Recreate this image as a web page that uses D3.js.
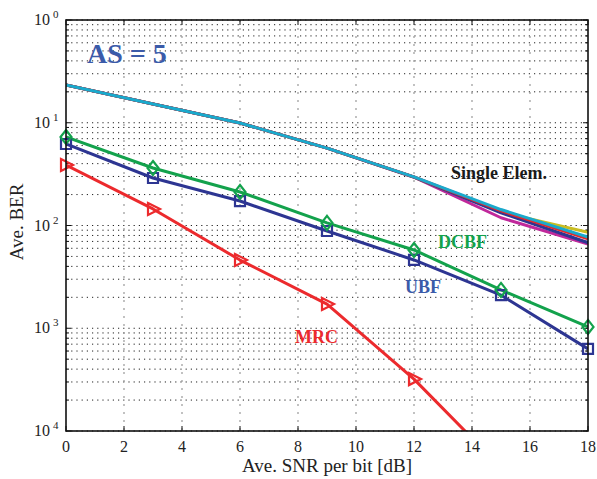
<!DOCTYPE html>
<html>
<head>
<meta charset="utf-8">
<script src="https://cdn.jsdelivr.net/npm/d3@7"></script>
<style>
  body { margin: 0; background: #fff; }
  text { font-family: "Liberation Serif", "Times New Roman", serif; }
</style>
</head>
<body>
<script>
// data
const snr = [0, 3, 6, 9, 12, 15, 18];
const xTicks = [0, 2, 4, 6, 8, 10, 12, 14, 16, 18];
const yDecades = [0, -1, -2, -3, -4];
const yTickLabels = ['0', '1', '2', '3', '4'];

const singleMagenta = [0.233, 0.152, 0.0995, 0.0567, 0.0295, 0.0119, 0.0066];
const singleYellow = [0.233, 0.152, 0.0995, 0.0567, 0.0296, 0.0135, 0.0086];
const singleBlue = [0.233, 0.152, 0.0995, 0.0567, 0.0296, 0.0133, 0.0068];
const singleRed = [0.233, 0.152, 0.0995, 0.0567, 0.0297, 0.0139, 0.0074];
const singleCyan = [0.233, 0.152, 0.0995, 0.0567, 0.0297, 0.0143, 0.0077];
const dcbf = [0.0727, 0.0363, 0.0212, 0.0106, 0.00578, 0.00236, 0.00103];
const ubf = [0.0621, 0.029, 0.0173, 0.00884, 0.00462, 0.0021, 0.00063];
const mrc = [0.0388, 0.0145, 0.00461, 0.00172, 0.00032, 0.000044];

const width = 597, height = 479;
const margin = { left: 66, right: 9, top: 20, bottom: 48 };

const svg = d3.select('body').append('svg')
  .attr('width', width)
  .attr('height', height);

const x = d3.scaleLinear().domain([0, 18]).range([margin.left, width - margin.right]);
const y = d3.scaleLog().domain([1e-4, 1]).range([height - margin.bottom, margin.top]);

svg.append('defs').append('clipPath').attr('id', 'plot')
  .append('rect')
  .attr('x', x(0)).attr('y', y(1))
  .attr('width', x(18) - x(0)).attr('height', y(1e-4) - y(1));

// grid
let minorVals = [];
for (let e = -4; e < 0; e++) {
  for (let m = 1; m < 10; m++) minorVals.push(m * Math.pow(10, e));
}
minorVals.push(1);

const grid = svg.append('g');
grid.selectAll('line.h')
  .data(minorVals)
  .enter().append('line')
  .attr('x1', x(0)).attr('x2', x(18))
  .attr('y1', (d) => y(d)).attr('y2', (d) => y(d))
  .attr('stroke', '#222')
  .attr('stroke-width', 1)
  .attr('stroke-dasharray', '1.2,4');

grid.selectAll('line.v')
  .data(xTicks.slice(1, -1))
  .enter().append('line')
  .attr('x1', (d) => x(d)).attr('x2', (d) => x(d))
  .attr('y1', y(1)).attr('y2', y(1e-4))
  .attr('stroke', '#999')
  .attr('stroke-width', 1.2)
  .attr('stroke-dasharray', '2,6');

// ticks (inward)
const ticks = svg.append('g').attr('stroke', '#111').attr('stroke-width', 1);
xTicks.forEach((t) => {
  ticks.append('line').attr('x1', x(t)).attr('x2', x(t)).attr('y1', y(1e-4)).attr('y2', y(1e-4) - 5);
  ticks.append('line').attr('x1', x(t)).attr('x2', x(t)).attr('y1', y(1)).attr('y2', y(1) + 5);
});
minorVals.forEach((v) => {
  const major = Math.abs(Math.log10(v) - Math.round(Math.log10(v))) < 1e-9;
  const len = major ? 5 : 3;
  ticks.append('line').attr('x1', x(0)).attr('x2', x(0) + len).attr('y1', y(v)).attr('y2', y(v));
  ticks.append('line').attr('x1', x(18)).attr('x2', x(18) - len).attr('y1', y(v)).attr('y2', y(v));
});

// lines
const line = d3.line()
  .x((d, i) => x(snr[i]))
  .y((d) => y(d));

const series = [
  { v: singleMagenta, c: '#c0289b' },
  { v: singleYellow, c: '#c9bd22' },
  { v: singleBlue, c: '#2d3592' },
  { v: singleRed, c: '#e3262b' },
  { v: singleCyan, c: '#1aa9cc' },
  { v: mrc, c: '#ec2a2d', m: 'tri' },
  { v: ubf, c: '#2d3592', m: 'sq' },
  { v: dcbf, c: '#13a24c', m: 'dia' }
];

const plot = svg.append('g').attr('clip-path', 'url(#plot)');
series.forEach((s) => {
  plot.append('path')
    .datum(s.v)
    .attr('fill', 'none')
    .attr('stroke', s.c)
    .attr('stroke-width', 3)
    .attr('stroke-linejoin', 'round')
    .attr('d', line);
});

const markers = svg.append('g');
const tri = 'M-5,-6L7,0L-5,6Z';
const sq = 'M-5,-5L5,-5L5,5L-5,5Z';
const dia = 'M0,-7L5.5,0L0,7L-5.5,0Z';
series.filter((s) => s.m).forEach((s) => {
  const p = s.m === 'tri' ? tri : s.m === 'sq' ? sq : dia;
  markers.selectAll(null)
    .data(s.v.filter((d) => d >= 1e-4))
    .enter().append('path')
    .attr('transform', (d, i) => `translate(${x(snr[i])},${y(d)})`)
    .attr('d', p)
    .attr('fill', 'none')
    .attr('stroke', s.c)
    .attr('stroke-width', 2.2);
});

// box
svg.append('rect')
  .attr('x', x(0)).attr('y', y(1))
  .attr('width', x(18) - x(0)).attr('height', y(1e-4) - y(1))
  .attr('fill', 'none')
  .attr('stroke', '#111')
  .attr('stroke-width', 1.6);

// tick labels
svg.selectAll('text.xt')
  .data(xTicks)
  .enter().append('text')
  .attr('x', (d) => x(d))
  .attr('y', y(1e-4) + 21)
  .attr('text-anchor', 'middle')
  .attr('font-size', 16)
  .attr('fill', '#222')
  .text((d) => d);

yDecades.forEach((e, i) => {
  const t = svg.append('text')
    .attr('x', 34)
    .attr('y', y(Math.pow(10, e)) + 5)
    .attr('font-size', 16)
    .attr('fill', '#222');
  t.append('tspan').text('10');
  t.append('tspan').attr('dx', 3).attr('dy', -7).attr('font-size', 11).text(yTickLabels[i]);
});

// axis titles
svg.append('text')
  .attr('x', (x(0) + x(18)) / 2)
  .attr('y', 472)
  .attr('text-anchor', 'middle')
  .attr('font-size', 19)
  .attr('fill', '#222')
  .text('Ave. SNR per bit [dB]');

svg.append('text')
  .attr('transform', 'translate(23,222) rotate(-90)')
  .attr('text-anchor', 'middle')
  .attr('font-size', 19)
  .attr('fill', '#222')
  .text('Ave. BER');

// annotations
const notes = [
  { t: 'AS = 5', x: 87, y: 63, s: 28, c: '#3b5ba9' },
  { t: 'Single Elem.', x: 451, y: 179, s: 18, c: '#1a1a1a' },
  { t: 'DCBF', x: 438, y: 248, s: 18, c: '#13a24c' },
  { t: 'UBF', x: 405, y: 293, s: 18, c: '#3b5ba9' },
  { t: 'MRC', x: 295, y: 343, s: 18, c: '#ec2a2d' }
];
svg.selectAll('text.note')
  .data(notes)
  .enter().append('text')
  .attr('x', (d) => d.x)
  .attr('y', (d) => d.y)
  .attr('font-size', (d) => d.s)
  .attr('font-weight', 'bold')
  .attr('fill', (d) => d.c)
  .text((d) => d.t);
</script>
</body>
</html>
